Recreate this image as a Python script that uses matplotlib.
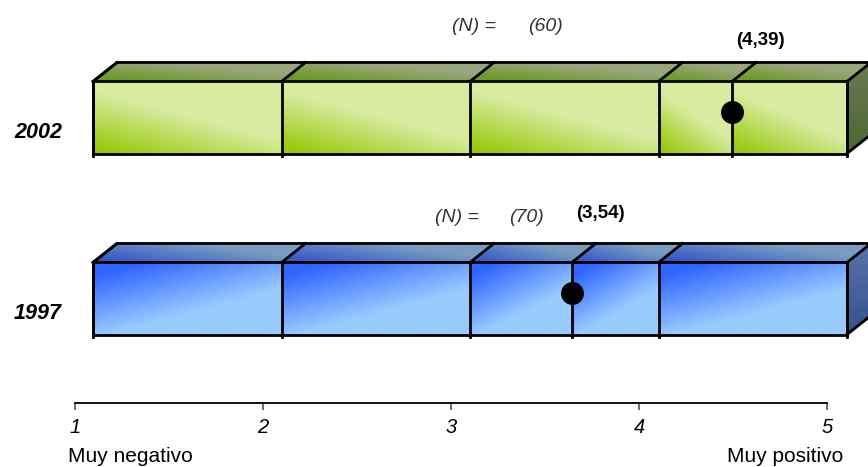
import numpy as np
import matplotlib.pyplot as plt
from matplotlib.patches import Polygon
from matplotlib.colors import to_rgb
from matplotlib.transforms import ScaledTranslation

plt.rcParams['font.family'] = ['Liberation Sans', 'DejaVu Sans']

# data
years = ['2002', '1997']
means = [4.39, 3.54]
mean_labels = ['(4,39)', '(3,54)']
n_values = ['(60)', '(70)']
scale_ticks = [1, 2, 3, 4, 5]
scale_ends = ['Muy negativo', 'Muy positivo']

# layout (bar scale units / row units)
row_y = [1, 0]
n_label_x = [2.905, 2.814]
n_value_x = [3.398, 3.302]
n_label_dy = [0.50, 0.445]
mean_label_dy = [0.428, 0.467]
half_h = 0.199
dx, dy = 0.127, 0.105

palettes = [
    {'front': ('#d8eba0', '#98c90a'), 'top': ('#99a67c', '#6e9a28'),
     'side': ('#6a7a52', '#4d6633')},
    {'front': ('#9acbff', '#3064ff'), 'top': ('#7a9cc2', '#3356c8'),
     'side': ('#5a74a8', '#34508e')},
]


def front_green(u, v):
    return np.clip(1.1 * (1 - 0.8 * u - 1.15 * v), 0, 1)


def front_blue(u, v):
    return np.clip(1.2 * (1 - 0.65 * u - 0.95 * (1 - v)), 0, 1)


def top_green(u, v):
    return np.clip(1.3 * (1 - 0.75 * u - 0.9 * v), 0, 1)


def top_blue(u, v):
    return np.clip(1.1 * (1 - 0.9 * u - 0.6 * v), 0, 1)


def side_shade(u, v):
    return np.clip(1 - v, 0, 1)


def grad_fill(ax, pts, light, dark, func):
    pts = np.asarray(pts)
    x0, y0 = pts.min(axis=0)
    x1, y1 = pts.max(axis=0)
    u, v = np.meshgrid(np.linspace(0, 1, 120), np.linspace(0, 1, 60))
    d = func(u, v)[..., None]
    lo, hi = np.array(to_rgb(light)), np.array(to_rgb(dark))
    img = lo + (hi - lo) * d
    im = ax.imshow(img, extent=[x0, x1, y0, y1], origin='lower',
                   aspect='auto', interpolation='bilinear', zorder=1)
    poly = Polygon(pts, closed=True, facecolor='none', edgecolor='none')
    ax.add_patch(poly)
    im.set_clip_path(poly)


fig = plt.figure(figsize=(8.68, 4.67), dpi=100)
ax = fig.add_axes([0, 0, 1, 1])
px = 188.5
ax.set_xlim(1 - 93 / px, 1 + (868 - 93) / px)
ax.set_ylim((298.5 - 467) / 181, 298.5 / 181)
ax.axis('off')

front_funcs = [front_green, front_blue]
top_funcs = [top_green, top_blue]
narrow = ['Liberation Sans Narrow', 'Liberation Sans', 'DejaVu Sans']
for i, yr in enumerate(years):
    yc = row_y[i]
    bot, top = yc - half_h, yc + half_h
    pal = palettes[i]
    bounds = sorted(scale_ticks + [means[i]])
    for a, b in zip(bounds[:-1], bounds[1:]):
        grad_fill(ax, [(a, bot), (b, bot), (b, top), (a, top)],
                  pal['front'][0], pal['front'][1], front_funcs[i])
        grad_fill(ax, [(a, top), (b, top), (b + dx, top + dy), (a + dx, top + dy)],
                  pal['top'][0], pal['top'][1], top_funcs[i])
    xe = bounds[-1]
    grad_fill(ax, [(xe, bot), (xe, top), (xe + dx, top + dy), (xe + dx, bot + dy)],
              pal['side'][0], pal['side'][1], side_shade)

    # outlines
    lw = 2.0
    xs = bounds[0]
    ax.plot([xs, xe, xe, xs, xs], [bot, bot, top, top, bot], color='black',
            lw=lw, zorder=3, solid_joinstyle='miter')
    ax.plot([xs, xs + dx, xe + dx, xe + dx, xe],
            [top, top + dy, top + dy, bot + dy, bot],
            color='black', lw=lw, zorder=3, solid_joinstyle='miter')
    for b in bounds:
        ax.plot([b, b], [bot - 0.015, top], color='black', lw=lw, zorder=3)
        ax.plot([b, b + dx], [top, top + dy], color='black', lw=lw, zorder=3)

    ax.plot([means[i]], [yc + 0.028], 'o', color='black', ms=15.5, zorder=4)

    ax.text(bounds[0] - 0.165, yc - 0.085, yr, ha='right', va='center',
            fontsize=15.5, fontweight='bold', fontstyle='italic')
    ax.text(n_label_x[i], yc + n_label_dy[i], '(N) =', ha='left', va='center',
            fontsize=14, fontstyle='italic', color='#333333', family=narrow)
    ax.text(n_value_x[i], yc + n_label_dy[i], n_values[i], ha='center',
            va='center', fontsize=14, fontstyle='italic', color='#333333',
            family=narrow)
    ax.text(means[i] + 0.15, yc + mean_label_dy[i], mean_labels[i],
            ha='center', va='center', fontsize=13.5, fontweight='bold')

# scale axis
ax2 = fig.add_axes([0, (467 - 403) / 467, 1, 0.001])
ax2.set_xlim(1 - 75 / 188, 1 + (868 - 75) / 188)
ax2.set_ylim(0, 1)
for s in ['top', 'left', 'right']:
    ax2.spines[s].set_visible(False)
ax2.spines['bottom'].set_bounds(scale_ticks[0], scale_ticks[-1])
ax2.spines['bottom'].set_linewidth(1.3)
ax2.set_yticks([])
ax2.set_xticks(scale_ticks)
ax2.set_xticklabels([str(t) for t in scale_ticks], fontsize=14.5,
                    fontstyle='italic')
ax2.tick_params(axis='x', direction='out', length=5, width=1.2,
                color='#555555', pad=6)
ax2.patch.set_alpha(0)
shift = ax2.get_xaxis_transform() + ScaledTranslation(0, -0.53, fig.dpi_scale_trans)
ax2.text(scale_ticks[0] - 0.037, 0, scale_ends[0], ha='left', va='center',
         fontsize=15, transform=shift, clip_on=False)
ax2.text(scale_ticks[-1] + 0.085, 0, scale_ends[1], ha='right', va='center',
         fontsize=15, transform=shift, clip_on=False)

fig.savefig('out.png', dpi=100)
